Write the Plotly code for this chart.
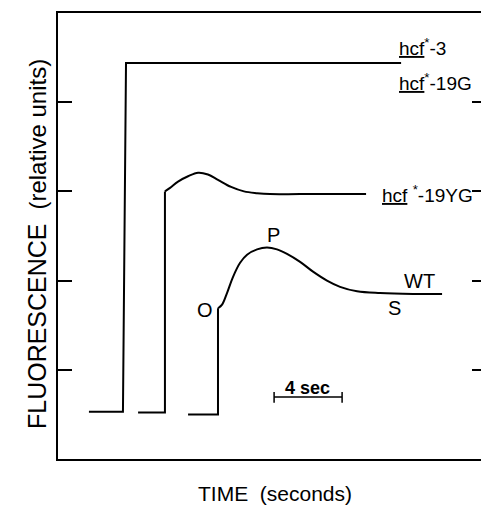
import plotly.graph_objects as go

# ---- data (time in seconds, fluorescence in relative units) ----
# hcf*-3 / hcf*-19G : step trace
hcf3_x = [1.82, 3.82, 4.00, 20.18]
hcf3_y = [0.53, 0.53, 4.44, 4.44]

# hcf*-19YG : baseline + jump, then curve
yg_step_x = [4.71, 6.29, 6.29]
yg_step_y = [0.52, 0.52, 3.00]
yg_curve_x = [6.29, 6.59, 7.06, 7.65, 8.24, 8.82, 9.41, 10.18, 10.94, 11.71, 12.47, 14.24, 18.12]
yg_curve_y = [3.00, 3.04, 3.11, 3.17, 3.21, 3.19, 3.13, 3.05, 3.00, 2.98, 2.97, 2.97, 2.97]

# WT : baseline + jump, then O-P-S curve
wt_step_x = [7.65, 9.41, 9.41]
wt_step_y = [0.50, 0.50, 1.69]
wt_curve_x = [9.41, 9.65, 9.94, 10.29, 10.71, 11.12, 11.71, 12.29, 12.88, 13.47, 14.24,
              15.00, 15.82, 16.59, 17.59, 18.94, 20.88, 22.59]
wt_curve_y = [1.69, 1.73, 1.86, 2.04, 2.20, 2.29, 2.35, 2.37, 2.35, 2.30, 2.21,
              2.10, 2.00, 1.93, 1.88, 1.86, 1.85, 1.85]

# 4-second scale bar
bar_x = [12.71, 12.71, 12.71, 16.71, 16.71, 16.71]
bar_y = [0.63, 0.75, 0.695, 0.695, 0.63, 0.75]

y_ticks = [1, 2, 3, 4]

FONT = "Liberation Sans"
LINE = dict(color="black", width=2)
CURVE = dict(color="black", width=2, shape="spline", smoothing=1.0)

fig = go.Figure()
fig.add_trace(go.Scatter(x=hcf3_x, y=hcf3_y, mode="lines", line=LINE))
fig.add_trace(go.Scatter(x=yg_step_x, y=yg_step_y, mode="lines", line=LINE))
fig.add_trace(go.Scatter(x=yg_curve_x, y=yg_curve_y, mode="lines", line=CURVE))
fig.add_trace(go.Scatter(x=wt_step_x, y=wt_step_y, mode="lines", line=LINE))
fig.add_trace(go.Scatter(x=wt_curve_x, y=wt_curve_y, mode="lines", line=CURVE))
fig.add_trace(go.Scatter(x=bar_x, y=bar_y, mode="lines",
                         line=dict(color="black", width=1.5)))
# invisible trace on right axis to show its ticks
fig.add_trace(go.Scatter(x=[0], y=[0], yaxis="y2", mode="markers",
                         marker=dict(opacity=0), hoverinfo="skip"))

lab = dict(showarrow=False, font=dict(family=FONT, size=19, color="black"),
           xref="x", yref="y")
lab2 = dict(showarrow=False, font=dict(family=FONT, size=20, color="black"),
            xref="x", yref="y")
anns = [
    dict(x=19.94, y=4.62, text="<u>hcf</u><sup>*</sup>-3", xanchor="left", **lab),
    dict(x=19.94, y=4.23, text="<u>hcf</u><sup>*</sup>-19G", xanchor="left", **lab),
    dict(x=18.94, y=2.97, text="<u>hcf</u> <sup>*</sup>-19YG", xanchor="left", **lab),
    dict(x=20.24, y=2.00, text="WT", xanchor="left", **lab2),
    dict(x=19.80, y=1.69, text="S", **lab2),
    dict(x=12.65, y=2.51, text="P", **lab2),
    dict(x=8.65, y=1.67, text="O", **lab2),
    dict(x=14.65, y=0.80, text="<b>4 sec</b>", showarrow=False,
         font=dict(family=FONT, size=18, color="black"), xref="x", yref="y"),
    dict(x=-0.0496, y=0.482, xref="paper", yref="paper", showarrow=False, textangle=-90,
         xanchor="center", yanchor="middle",
         text="<span style='font-size:25px'>FLUORESCENCE</span>  "
              "<span style='font-size:24px'>(relative units)</span>",
         font=dict(family=FONT, size=25, color="black")),
    dict(x=0.513, y=-0.078, xref="paper", yref="paper", showarrow=False,
         xanchor="center", yanchor="middle",
         text="TIME  (seconds)", font=dict(family=FONT, size=21, color="black")),
]

fig.update_layout(
    width=481, height=507,
    margin=dict(l=58, r=0, t=13, b=48),
    paper_bgcolor="white", plot_bgcolor="white",
    showlegend=False,
    annotations=anns,
    xaxis=dict(range=[0, 24.88], showgrid=False, zeroline=False, showticklabels=False,
               ticks="", showline=True, linecolor="black", linewidth=2, mirror=True),
    yaxis=dict(range=[0, 5], showgrid=False, zeroline=False, showticklabels=False,
               tickvals=y_ticks, ticks="inside", ticklen=14, tickwidth=2,
               tickcolor="black", showline=True, linecolor="black", linewidth=2),
    yaxis2=dict(range=[0, 5], overlaying="y", side="right", showgrid=False,
                zeroline=False, showticklabels=False, tickvals=y_ticks,
                ticks="inside", ticklen=9, tickwidth=2, tickcolor="black",
                showline=False),
)

fig.write_html("out.html")
